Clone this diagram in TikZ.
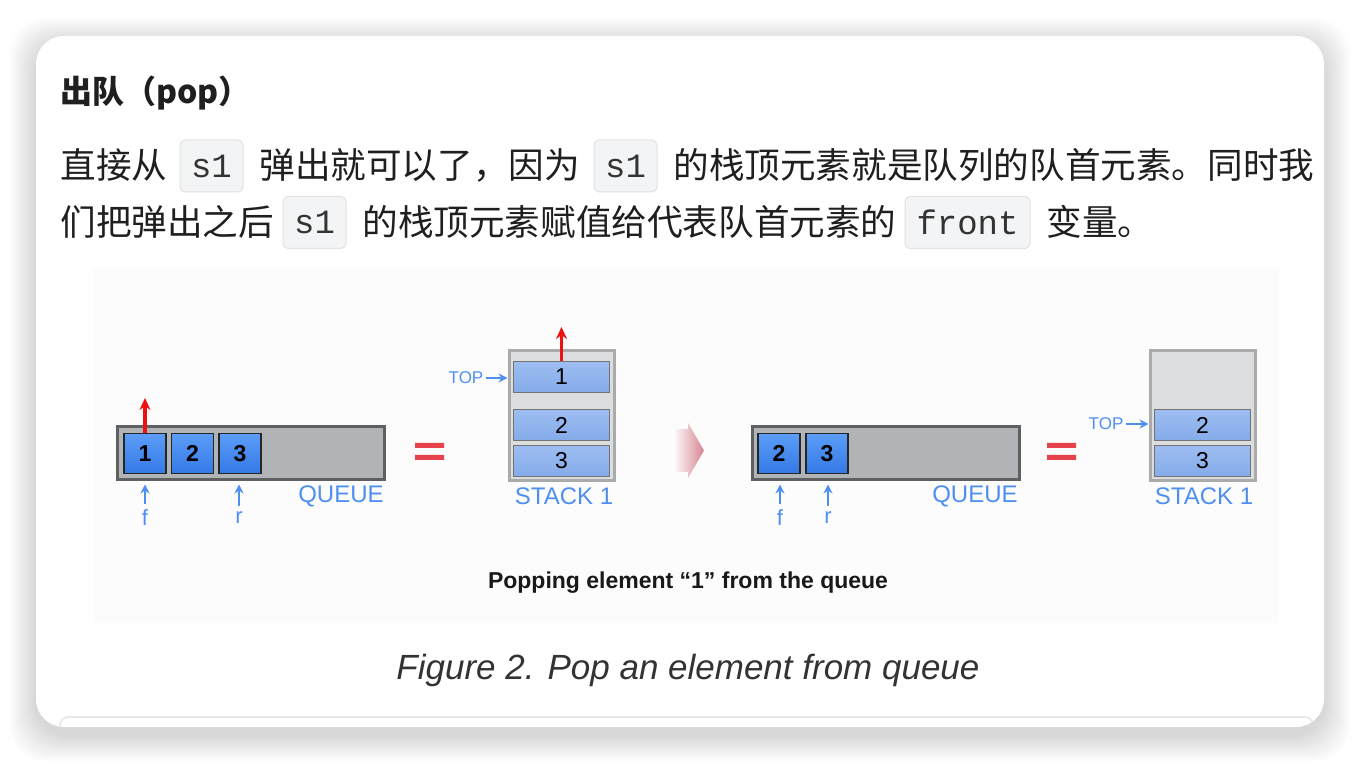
\documentclass[tikz,border=0pt]{standalone}
\usepackage{fontspec}
\setmainfont{Liberation Sans}
\setmonofont{Liberation Mono}
\newfontfamily\cjk{Noto Sans CJK SC}
\usetikzlibrary{arrows.meta}

\definecolor{cardline}{HTML}{E8E8E8}
\definecolor{codebg}{HTML}{F3F4F5}
\definecolor{codeline}{HTML}{E2E2E2}
\definecolor{figbg}{HTML}{FCFCFC}
\definecolor{qframe}{HTML}{5F6062}
\definecolor{qfill}{HTML}{B1B4B7}
\definecolor{qcelltop}{HTML}{5C9DF7}
\definecolor{qcellbot}{HTML}{3479E6}
\definecolor{sframe}{HTML}{A9AAAC}
\definecolor{sfill}{HTML}{DCDDDF}
\definecolor{scelltop}{HTML}{9DBDF1}
\definecolor{scellbot}{HTML}{85ABEA}
\definecolor{lblblue}{HTML}{4F8FF2}
\definecolor{popred}{HTML}{EE1111}
\definecolor{eqred}{HTML}{E6434C}
\definecolor{arrowpink}{HTML}{D7848F}
\definecolor{bodytext}{HTML}{1F1F1F}

\tikzset{
  body/.style={anchor=base west, inner sep=0pt, font=\cjk\fontsize{17.8}{20}\selectfont, text=bodytext},
  codebox/.style={draw=codeline, fill=codebg, rounded corners=2.5pt, line width=0.5pt,
    minimum height=26pt, inner sep=0pt, font=\ttfamily\fontsize{17}{20}\selectfont, text=black!80},
  qbox/.style={draw=qframe, fill=qfill, line width=1.5pt, minimum width=133.5pt,
    minimum height=26.5pt, inner sep=0pt},
  sbox/.style={draw=sframe, fill=sfill, line width=1.5pt, minimum width=52.5pt,
    minimum height=65pt, inner sep=0pt},
  qcell/.style={draw=black!85, line width=0.8pt, top color=qcelltop, bottom color=qcellbot,
    minimum width=21pt, minimum height=20pt, inner sep=0pt, font=\bfseries\fontsize{11.5}{12}\selectfont},
  scell/.style={draw=black!55, line width=0.6pt, top color=scelltop, bottom color=scellbot,
    minimum width=48pt, minimum height=15.5pt, inner sep=0pt, font=\fontsize{11.5}{12}\selectfont},
  lbl/.style={text=lblblue, inner sep=0pt, font=\fontsize{11}{12}\selectfont},
  ptr/.style={draw=lblblue, line width=1.1pt, -{Stealth[length=4.5pt,width=4.5pt]}},
  poparrow/.style={draw=popred, line width=1.6pt, -{Stealth[length=6pt,width=5.5pt]}},
}

\begin{document}
\begin{tikzpicture}[x=0.5pt,y=-0.5pt]
\useasboundingbox (0,0) rectangle (1360,764);
\fill[white] (0,0) rectangle (1360,764);
% card with soft shadow
\foreach \d in {2,4,...,26}
  \fill[black, opacity=0.011, rounded corners=18pt] (36-\d,36-\d+8) rectangle (1324+\d,727+\d+8);
\fill[white, rounded corners=14pt] (36,36) rectangle (1324,727);
\begin{scope}
\clip[rounded corners=14pt] (36,36) rectangle (1324,727);
\draw[cardline, line width=0.8pt, rounded corners=4pt] (60,717) rectangle (1313,800);
\end{scope}

% heading and text
\node[body, font=\cjk\bfseries\fontsize{16}{20}\selectfont] (title) at (60,104) {出队（pop）};
\node[body] (l1a) at (60,179) {直接从};
\node[codebox, minimum width=31.5pt] (s1a) at (211.5,166) {s1};
\node[body] (l1b) at (259,179) {弹出就可以了，因为};
\node[codebox, minimum width=31.5pt] (s1b) at (625.5,166) {s1};
\node[body] (l1c) at (673,179) {的栈顶元素就是队列的队首元素。同时我};
\node[body] (l2a) at (60,236) {们把弹出之后};
\node[codebox, minimum width=31.5pt] (s1c) at (314.5,222.5) {s1};
\node[body] (l2b) at (362,236) {的栈顶元素赋值给代表队首元素的};
\node[codebox, minimum width=62.5pt] (frontbox) at (967.5,222.5) {front};
\node[body] (l2c) at (1046,236) {变量。};

% figure
\fill[figbg] (93,268) rectangle (1279,623);

% queue before
\node[qbox] (queueA) at (250.5,453.5) {};
\node[qcell] (qa1) at (145,453.5) {1};
\node[qcell] (qa2) at (192.5,453.5) {2};
\node[qcell] (qa3) at (240,453.5) {3};
\coordinate (popA) at (145,398);
\draw[poparrow] (qa1.north) -- (popA);
\node[lbl] (fA) at (145,518) {f};
\node[lbl] (rA) at (239,518) {r};
\draw[ptr, shorten <=3pt, shorten >=1.5pt] (fA.north) -- (fA.north |- queueA.south);
\draw[ptr, shorten <=3pt, shorten >=1.5pt] (rA.north) -- (rA.north |- queueA.south);
\node[lbl, anchor=east, font=\fontsize{12}{12}\selectfont] (qlabelA) at (384,496) {QUEUE};

\fill[eqred] (415,443) rectangle (444,448) (415,455) rectangle (444,460);

% stack before
\node[sbox] (stackA) at (561.5,416) {};
\node[scell] (sa1) at (561.5,377) {1};
\node[scell] (sa2) at (561.5,425) {2};
\node[scell] (sa3) at (561.5,461) {3};
\coordinate (popB) at (561.5,327);
\draw[poparrow] (sa1.north) -- (popB);
\node[lbl, font=\fontsize{8.5}{9}\selectfont] (topA) at (466,378) {TOP};
\draw[ptr, shorten <=1pt] (topA.east) -- (topA.east -| stackA.west);
\node[lbl, font=\fontsize{12}{12}\selectfont] (slabelA) at (564,496) {STACK 1};

% step arrow
\shade[left color=white, right color=arrowpink] (673,429) -- (688,429) -- (688,423)
  -- (704,450.5) -- (688,478) -- (688,472) -- (673,472) -- cycle;

% queue after
\node[qbox] (queueB) at (885.5,453.5) {};
\node[qcell] (qb2) at (779,453.5) {2};
\node[qcell] (qb3) at (827,453.5) {3};
\node[lbl] (fB) at (780,518) {f};
\node[lbl] (rB) at (828,518) {r};
\draw[ptr, shorten <=3pt, shorten >=1.5pt] (fB.north) -- (fB.north |- queueB.south);
\draw[ptr, shorten <=3pt, shorten >=1.5pt] (rB.north) -- (rB.north |- queueB.south);
\node[lbl, anchor=east, font=\fontsize{12}{12}\selectfont] (qlabelB) at (1018,496) {QUEUE};

\fill[eqred] (1047,443) rectangle (1076,448) (1047,455) rectangle (1076,460);

% stack after
\node[sbox] (stackB) at (1202.5,416) {};
\node[scell] (sb2) at (1202.5,425) {2};
\node[scell] (sb3) at (1202.5,461) {3};
\node[lbl, font=\fontsize{8.5}{9}\selectfont] (topB) at (1106,424) {TOP};
\draw[ptr, shorten <=1pt] (topB.east) -- (topB.east -| stackB.west);
\node[lbl, font=\fontsize{12}{12}\selectfont] (slabelB) at (1204,496) {STACK 1};

% captions
\node[font=\bfseries\fontsize{11.5}{12}\selectfont, text=black!90] (popcap) at (688,583)
  {Popping element “1” from the queue};
\node[font=\itshape\fontsize{17.5}{20}\selectfont, text=black!80] (figcap) at (688,670)
  {Figure 2. Pop an element from queue};
\end{tikzpicture}
\end{document}
